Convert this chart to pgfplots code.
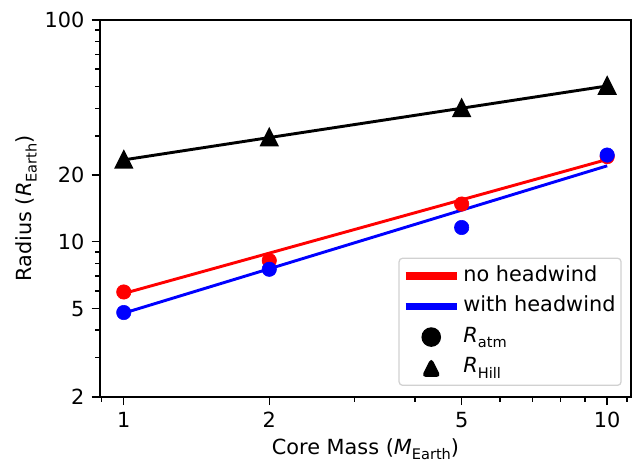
\documentclass[border=0pt]{standalone}
\usepackage{fontspec}
\setmainfont{DejaVu Sans}
\usepackage{pgfplots}
\pgfplotsset{compat=1.18}
\newcommand{\sub}[1]{\raisebox{-0.25em}{\fontsize{10.5}{11}\selectfont #1}}
\pgfdeclareplotmark{mtri}{%
  \pgfpathmoveto{\pgfqpoint{0pt}{\pgfplotmarksize}}%
  \pgfpathlineto{\pgfqpoint{-\pgfplotmarksize}{-\pgfplotmarksize}}%
  \pgfpathlineto{\pgfqpoint{\pgfplotmarksize}{-\pgfplotmarksize}}%
  \pgfpathclose
  \pgfusepathqfillstroke}
\begin{document}
\fontsize{15}{18}\selectfont
\begin{tikzpicture}
\path[use as bounding box] (0,0) rectangle (455.76pt,333.36pt);
\begin{axis}[
  at={(72pt,47.6pt)}, anchor=south west,
  scale only axis, width=382.3pt, height=271.4pt,
  xmode=log, ymode=log,
  xmin=0.893, xmax=11.2, ymin=2, ymax=100,
  xtick={1,2,5,10}, xticklabels={1,2,5,10},
  minor xtick={0.9,3,4,6,7,8,9,11},
  ytick={2,5,10,20,100}, yticklabels={2,5,10,20,100},
  minor ytick={3,4,6,7,8,9,30,40,50,60,70,80,90},
  /pgf/number format/assume math mode=true,
  tick pos=left, tick align=outside,
  major tick length=6pt, minor tick length=3.5pt,
  every tick/.style={black, line width=1pt},
  axis line style={black, line width=1.1pt},
  xlabel={Core Mass (\textit{M}\sub{Earth})},
  ylabel={Radius (\textit{R}\sub{Earth})},
  xlabel style={at={(axis description cs:0.5,0)}, anchor=base, yshift=-41.5pt},
  ylabel style={at={(axis description cs:0,0.5)}, anchor=base, yshift=49.3pt},
  legend style={at={(0.9825,0.029)}, anchor=south east, draw=black!18, line width=0.9pt,
    rounded corners=2.5pt, fill=white, inner xsep=2pt, inner ysep=3pt, row sep=2.5pt,
    font=\fontsize{15}{18}\selectfont,
    nodes={text height=11.5pt, text depth=4pt}},
  legend cell align=left,
]
\addlegendimage{legend image code/.code={\draw[red, line width=5.3pt] (0pt,0pt) -- (37pt,0pt);}}
\addlegendentry{no headwind}
\addlegendimage{legend image code/.code={\draw[blue, line width=5.3pt] (0pt,0pt) -- (37pt,0pt);}}
\addlegendentry{with headwind}
\addlegendimage{legend image code/.code={\fill[black] (18.5pt,0pt) circle (6.6pt);}}
\addlegendentry{\textit{R}\sub{atm}}
\addlegendimage{legend image code/.code={\fill[black] (18.5pt,6.3pt) -- (12.2pt,-6.3pt) -- (24.8pt,-6.3pt) -- cycle;}}
\addlegendentry{\textit{R}\sub{Hill}}

\addplot[red, line width=2.1pt, forget plot] coordinates {(1,5.85) (10,23.5)};
\addplot[only marks, mark=*, mark size=5.2pt, red, forget plot] coordinates {(1,5.94) (2,8.23) (5,14.8) (10,24.2)};
\addplot[blue, line width=2.1pt, forget plot] coordinates {(1,4.77) (10,22.0)};
\addplot[only marks, mark=*, mark size=5.2pt, blue, forget plot] coordinates {(1,4.80) (2,7.52) (5,11.6) (10,24.6)};
\addplot[black, line width=2.1pt, mark=mtri, mark size=5.3pt, mark options={solid}, forget plot] coordinates {(1,23.4) (2,29.5) (5,40.0) (10,50.4)};
\end{axis}
\end{tikzpicture}
\end{document}
